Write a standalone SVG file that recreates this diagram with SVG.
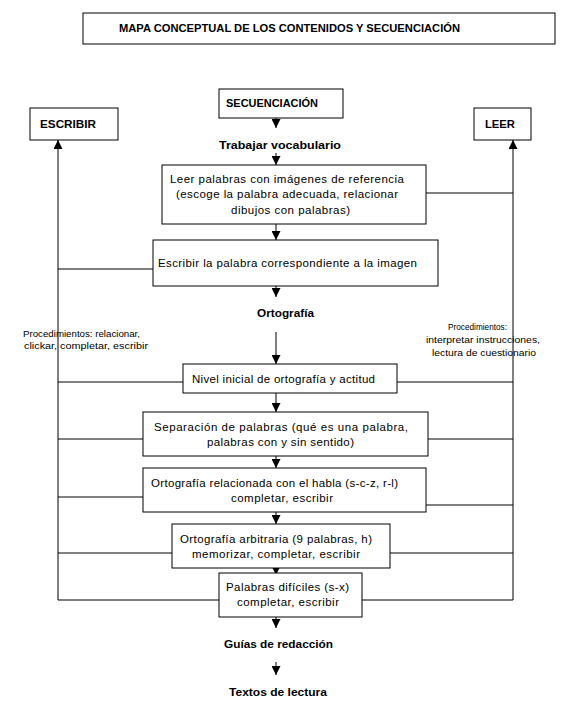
<svg xmlns="http://www.w3.org/2000/svg" width="572" height="721" viewBox="0 0 572 721">
<defs>
<marker id="ah" markerUnits="userSpaceOnUse" markerWidth="9" markerHeight="9" refX="9" refY="4.5" orient="auto">
<path d="M0,0 L9,4.5 L0,9 z" fill="#000"/>
</marker>
<style>
.box{fill:#fff;stroke:#000;stroke-width:1}
.ln{stroke:#000;stroke-width:1;fill:none}
.ar{stroke:#000;stroke-width:1;fill:none;marker-end:url(#ah)}
.b{font-family:"Liberation Sans",Arial,sans-serif;font-weight:bold;font-size:11px;fill:#000}
.t{font-family:"Liberation Sans",Arial,sans-serif;font-size:11.5px;fill:#000}
.s{font-family:"Liberation Sans",Arial,sans-serif;font-size:9.5px;fill:#000}
</style>
</defs>
<rect width="572" height="721" fill="#fff"/>
<g id="connectors">
<line class="ar" x1="276" y1="118" x2="276" y2="128"/>
<line class="ar" x1="276" y1="153" x2="276" y2="165"/>
<line class="ar" x1="276" y1="224" x2="276" y2="240"/>
<line class="ar" x1="276" y1="286" x2="276" y2="297"/>
<line class="ar" x1="276" y1="332" x2="276" y2="364"/>
<line class="ar" x1="276" y1="393" x2="276" y2="412"/>
<line class="ar" x1="276" y1="456" x2="276" y2="468"/>
<line class="ar" x1="276" y1="512" x2="276" y2="524"/>
<line class="ar" x1="276" y1="566" x2="276" y2="575"/>
<line class="ar" x1="276" y1="617" x2="276" y2="628"/>
<line class="ar" x1="276" y1="662" x2="276" y2="675"/>
<line class="ar" x1="58" y1="600" x2="58" y2="140"/>
<line class="ar" x1="513" y1="600" x2="513" y2="140"/>
<line class="ln" x1="426" y1="193" x2="513" y2="193"/>
<line class="ln" x1="58" y1="269" x2="153" y2="269"/>
<line class="ln" x1="58" y1="382" x2="183" y2="382"/>
<line class="ln" x1="397" y1="382" x2="513" y2="382"/>
<line class="ln" x1="58" y1="439" x2="143" y2="439"/>
<line class="ln" x1="428" y1="439" x2="513" y2="439"/>
<line class="ln" x1="58" y1="497" x2="143" y2="497"/>
<line class="ln" x1="426" y1="505" x2="513" y2="505"/>
<line class="ln" x1="58" y1="553" x2="172" y2="553"/>
<line class="ln" x1="390" y1="553" x2="513" y2="553"/>
<line class="ln" x1="58" y1="600" x2="219" y2="600"/>
<line class="ln" x1="362" y1="600" x2="513" y2="600"/>
</g>
<g id="title">
<rect class="box" x="83" y="13" width="472" height="31"/>
<text class="b" x="119" y="32" textLength="341" lengthAdjust="spacingAndGlyphs">MAPA CONCEPTUAL DE LOS CONTENIDOS Y SECUENCIACIÓN</text>
</g>
<g id="secuenciacion">
<rect class="box" x="219" y="89" width="124" height="29"/>
<text class="b" x="226" y="107" textLength="92" lengthAdjust="spacingAndGlyphs">SECUENCIACIÓN</text>
</g>
<g id="escribir">
<rect class="box" x="30" y="108" width="88" height="32"/>
<text class="b" x="40" y="128" textLength="56" lengthAdjust="spacingAndGlyphs">ESCRIBIR</text>
</g>
<g id="leer">
<rect class="box" x="474" y="108" width="57" height="32"/>
<text class="b" x="485" y="128" textLength="30" lengthAdjust="spacingAndGlyphs">LEER</text>
</g>
<g id="trabajar">
<text class="b" x="219" y="149" textLength="122" lengthAdjust="spacingAndGlyphs">Trabajar vocabulario</text>
</g>
<g id="leer-palabras">
<rect class="box" x="162" y="165" width="264" height="59"/>
<text class="t" x="170" y="183" textLength="234" lengthAdjust="spacing">Leer palabras con imágenes de referencia</text>
<text class="t" x="176" y="198" textLength="222" lengthAdjust="spacing">(escoge la palabra adecuada, relacionar</text>
<text class="t" x="231" y="214" textLength="119" lengthAdjust="spacing">dibujos con palabras)</text>
</g>
<g id="escribir-palabra">
<rect class="box" x="153" y="240" width="285" height="46"/>
<text class="t" x="158" y="267" textLength="259" lengthAdjust="spacing">Escribir la palabra correspondiente a la imagen</text>
</g>
<g id="ortografia">
<text class="b" x="257" y="317" textLength="57" lengthAdjust="spacingAndGlyphs">Ortografía</text>
</g>
<g id="proc-escribir">
<text class="s" x="23" y="337" textLength="117" lengthAdjust="spacingAndGlyphs">Procedimientos: relacionar,</text>
<text class="s" x="24" y="349" textLength="124" lengthAdjust="spacingAndGlyphs">clickar, completar,  escribir</text>
</g>
<g id="proc-leer">
<text class="s" x="448" y="330" textLength="59" lengthAdjust="spacingAndGlyphs">Procedimientos:</text>
<text class="s" x="426" y="343" textLength="114" lengthAdjust="spacingAndGlyphs">interpretar instrucciones,</text>
<text class="s" x="432" y="356" textLength="104" lengthAdjust="spacingAndGlyphs">lectura de cuestionario</text>
</g>
<g id="nivel-inicial">
<rect class="box" x="183" y="364" width="214" height="29"/>
<text class="t" x="192" y="383" textLength="183" lengthAdjust="spacing">Nivel inicial de ortografía y  actitud</text>
</g>
<g id="separacion">
<rect class="box" x="143" y="412" width="285" height="44"/>
<text class="t" x="154" y="431" textLength="254" lengthAdjust="spacing">Separación de palabras (qué es una palabra,</text>
<text class="t" x="207" y="446" textLength="147" lengthAdjust="spacing">palabras con y sin sentido)</text>
</g>
<g id="ortografia-habla">
<rect class="box" x="143" y="468" width="283" height="44"/>
<text class="t" x="151" y="487" textLength="247" lengthAdjust="spacing">Ortografía relacionada con el habla (s-c-z, r-l)</text>
<text class="t" x="231" y="502" textLength="102" lengthAdjust="spacing">completar, escribir</text>
</g>
<g id="ortografia-arbitraria">
<rect class="box" x="172" y="524" width="218" height="44"/>
<text class="t" x="180" y="543" textLength="192" lengthAdjust="spacing">Ortografía arbitraria (9 palabras, h)</text>
<text class="t" x="192" y="558" textLength="168" lengthAdjust="spacing">memorizar, completar, escribir</text>
</g>
<g id="palabras-dificiles">
<rect class="box" x="219" y="573" width="143" height="44"/>
<text class="t" x="226" y="591" textLength="123" lengthAdjust="spacing">Palabras difíciles (s-x)</text>
<text class="t" x="237" y="606" textLength="102" lengthAdjust="spacing">completar, escribir</text>
</g>
<g id="guias">
<text class="b" x="224" y="648" textLength="109" lengthAdjust="spacingAndGlyphs">Guías de redacción</text>
</g>
<g id="textos">
<text class="b" x="229" y="696" textLength="98" lengthAdjust="spacingAndGlyphs">Textos de lectura</text>
</g>
</svg>
